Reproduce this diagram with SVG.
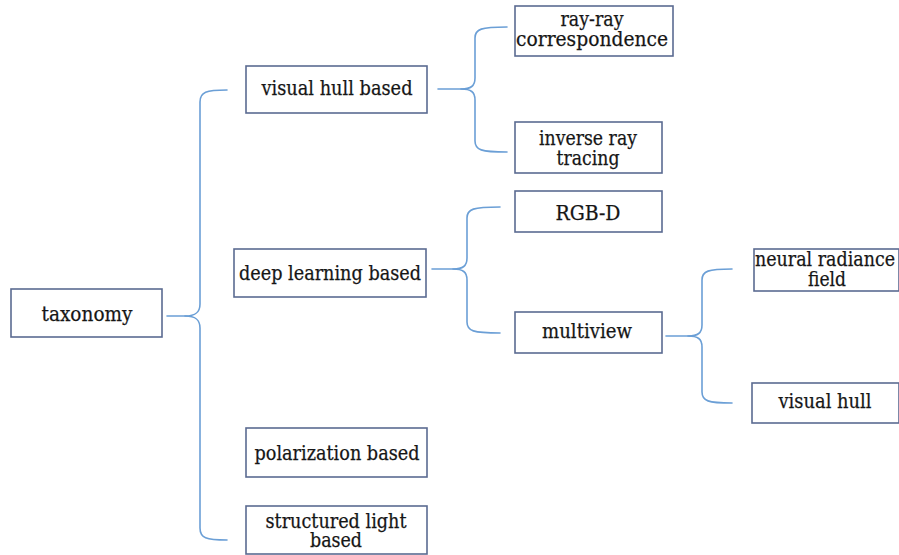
<svg xmlns="http://www.w3.org/2000/svg" width="899" height="555" viewBox="0 0 899 555">
  <style>
    .box { fill: #ffffff; stroke: #5b6b91; stroke-width: 1.6; }
    .brace { fill: none; stroke: #6b9fd6; stroke-width: 1.6; stroke-linecap: round; }
    text { stroke: #161616; stroke-width: 0.25; }
  </style>
  <rect width="899" height="555" fill="#ffffff"/>

  <!-- connectors: curly braces from each parent to its children -->
  <g id="connectors">
    <!-- taxonomy -->
    <path class="brace" d="M227,90 C206,90 200,92 200,102 V304 C200,312 196,316 185,316 H167"/>
    <path class="brace" d="M185,316 C196,316 200,320 200,328 V528 C200,538 206,540 227,540"/>
    <!-- visual hull based -->
    <path class="brace" d="M507,27 C481,27 475,29 475,38 V78 C475,86 471,89 461,89 H438"/>
    <path class="brace" d="M461,89 C471,89 475,92 475,100 V141 C475,150 481,152 507,152"/>
    <!-- deep learning based -->
    <path class="brace" d="M500,207 C473,207 467,209 467,218 V258 C467,266 463,269 453,269 H432"/>
    <path class="brace" d="M453,269 C463,269 467,272 467,280 V322 C467,331 473,333 500,333"/>
    <!-- multiview -->
    <path class="brace" d="M732,269 C708,269 702,271 702,280 V325 C702,333 698,336 688,336 H666"/>
    <path class="brace" d="M688,336 C698,336 702,339 702,347 V392 C702,401 708,403 732,403"/>
  </g>

  <g font-family="'DejaVu Serif', serif" font-size="20" fill="#161616" text-anchor="middle">
    <g id="taxonomy">
      <rect class="box" x="11" y="289" width="151" height="48"/>
      <text x="87" y="321" textLength="91" lengthAdjust="spacingAndGlyphs">taxonomy</text>
    </g>

    <g id="visual-hull-based">
      <rect class="box" x="246" y="66" width="181" height="47"/>
      <text x="337" y="95" textLength="151" lengthAdjust="spacingAndGlyphs">visual hull based</text>
    </g>

    <g id="ray-ray-correspondence">
      <rect class="box" x="515" y="6" width="158" height="50"/>
      <text x="592" y="26" textLength="63" lengthAdjust="spacingAndGlyphs">ray-ray</text>
      <text x="592" y="46" textLength="152" lengthAdjust="spacingAndGlyphs">correspondence</text>
    </g>

    <g id="inverse-ray-tracing">
      <rect class="box" x="515" y="122" width="147" height="51"/>
      <text x="588" y="145" textLength="98" lengthAdjust="spacingAndGlyphs">inverse ray</text>
      <text x="588" y="165" textLength="63" lengthAdjust="spacingAndGlyphs">tracing</text>
    </g>

    <g id="deep-learning-based">
      <rect class="box" x="234" y="249" width="192" height="48"/>
      <text x="330" y="280" textLength="182" lengthAdjust="spacingAndGlyphs">deep learning based</text>
    </g>

    <g id="rgb-d">
      <rect class="box" x="515" y="191" width="147" height="41"/>
      <text x="588" y="220" textLength="65" lengthAdjust="spacingAndGlyphs">RGB-D</text>
    </g>

    <g id="multiview">
      <rect class="box" x="515" y="312" width="147" height="41"/>
      <text x="587" y="338" textLength="90" lengthAdjust="spacingAndGlyphs">multiview</text>
    </g>

    <g id="neural-radiance-field">
      <rect class="box" x="754" y="249" width="145" height="42"/>
      <text x="825" y="266" textLength="140" lengthAdjust="spacingAndGlyphs">neural radiance</text>
      <text x="827" y="286" textLength="38" lengthAdjust="spacingAndGlyphs">field</text>
    </g>

    <g id="visual-hull">
      <rect class="box" x="752" y="383" width="147" height="40"/>
      <text x="825" y="408" textLength="93" lengthAdjust="spacingAndGlyphs">visual hull</text>
    </g>

    <g id="polarization-based">
      <rect class="box" x="246" y="428" width="181" height="49"/>
      <text x="337" y="460" textLength="165" lengthAdjust="spacingAndGlyphs">polarization based</text>
    </g>

    <g id="structured-light-based">
      <rect class="box" x="246" y="506" width="181" height="48"/>
      <text x="336" y="528" textLength="141" lengthAdjust="spacingAndGlyphs">structured light</text>
      <text x="336" y="547" textLength="52" lengthAdjust="spacingAndGlyphs">based</text>
    </g>
  </g>
</svg>
